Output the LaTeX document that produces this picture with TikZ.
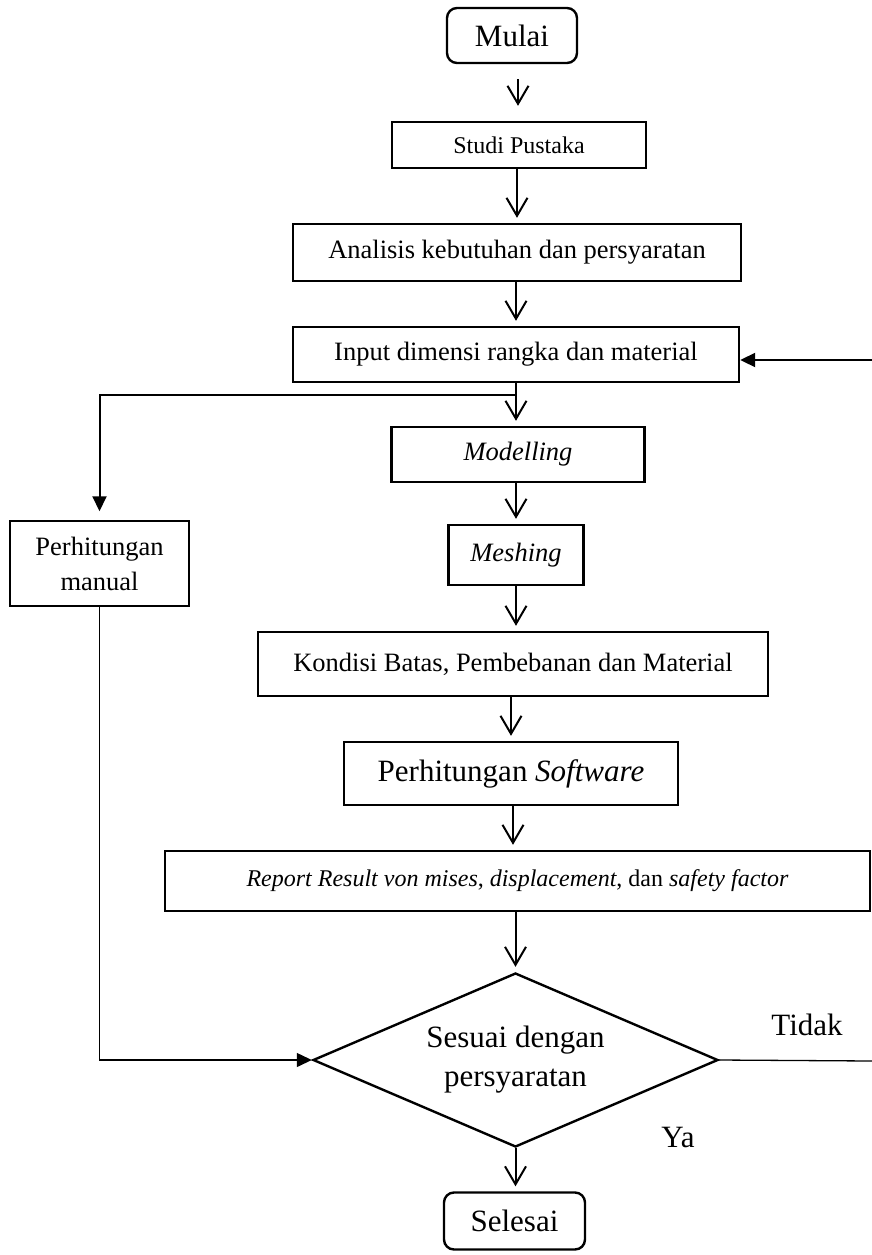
\documentclass[tikz,border=0pt]{standalone}
\usepackage{fontspec}
\setmainfont{Liberation Serif}
\usepackage{tikz}
\usetikzlibrary{arrows.meta,shapes.geometric}

\newcommand{\smallsz}{\fontsize{24}{28}\selectfont}
\newcommand{\midsz}{\fontsize{26.5}{35}\selectfont}
\newcommand{\bigsz}{\fontsize{31}{39}\selectfont}

\begin{document}
\begin{tikzpicture}[x=1pt, y=-1pt,
  box/.style={draw, line width=2.4pt, inner sep=0pt, align=center, font=\midsz},
  term/.style={box, rounded corners=10pt, font=\bigsz},
  decision/.style={draw, diamond, aspect=2.33, line width=2.4pt, inner sep=0pt, align=center, font=\bigsz, minimum width=405pt, minimum height=174pt},
  arrow/.style={-{Straight Barb[length=18pt,width=21pt]}, line width=2pt, shorten >=5pt},
  fillarrow/.style={-{Triangle[length=15pt,width=14pt]}, line width=2pt},
  thinline/.style={line width=1.3pt}]
  \useasboundingbox (0,0) rectangle (872,1255);
  \node[term, minimum width=130pt, minimum height=55pt] (mulai) at (512,35.5) {Mulai};
  \node[box, font=\smallsz, minimum width=254pt, minimum height=46pt] (studi) at (519,145) {Studi Pustaka};
  \node[box, minimum width=448pt, minimum height=57pt] (analisis) at (517,252.5) {Analisis kebutuhan dan persyaratan};
  \node[box, minimum width=446pt, minimum height=55pt] (input) at (516,354.5) {Input dimensi rangka dan material};
  \node[box, minimum width=253pt, minimum height=55pt] (modelling) at (518,454.5) {\textit{Modelling}};
  \node[box, minimum width=135pt, minimum height=60pt] (meshing) at (516,555) {\textit{Meshing}};
  \node[box, minimum width=510pt, minimum height=64pt] (kondisi) at (513,664) {Kondisi Batas, Pembebanan dan Material};
  \node[box, font=\bigsz, minimum width=334pt, minimum height=63pt] (software) at (511,773.5) {Perhitungan \textit{Software}};
  \node[box, font=\smallsz, minimum width=705pt, minimum height=60pt] (report) at (517.5,881) {\textit{Report Result von mises}, \textit{displacement}, dan \textit{safety factor}};
  \node[decision] (sesuai) at (515.5,1060) {Sesuai dengan\\persyaratan};
  \node[term, minimum width=141pt, minimum height=57pt] (selesai) at (514.5,1221) {Selesai};
  \node[box, line width=1.5pt, minimum width=179pt, minimum height=85pt] (manual) at (99.5,563.5) {Perhitungan\\manual};
  \node[font=\bigsz] (tidak) at (807,1025) {Tidak};
  \node[font=\bigsz] (ya) at (678,1137) {Ya};
  \coordinate (split) at (516,395);
  \coordinate (back) at (872,360);
  \coordinate (tidakend) at (872,1061);
  \draw[arrow, shorten <=15pt, shorten >=15pt] (mulai.south -| 518,0) -- (studi.north -| 518,0);
  \draw[arrow] (studi.south -| analisis) -- (analisis.north);
  \draw[arrow] (analisis.south -| input) -- (input.north);
  \draw[arrow] (input.south) -- (input.south |- modelling.north);
  \draw[arrow] (modelling.south -| meshing) -- (meshing.north);
  \draw[arrow] (meshing.south) -- (meshing.south |- kondisi.north);
  \draw[arrow] (kondisi.south -| software) -- (software.north);
  \draw[arrow] (software.south -| 513,0) -- (report.north -| 513,0);
  \draw[arrow] (report.south -| sesuai) -- (sesuai.north);
  \draw[arrow] (sesuai.south) -- (sesuai.south |- selesai.north);
  \draw[fillarrow, shorten >=9pt] (split) -| (manual.north);
  \draw[fillarrow] (back) -- (input.east |- back);
  \draw[thinline, -{Triangle[length=15pt,width=14pt]}] (manual.south) |- (sesuai.west);
  \draw[thinline] (sesuai.east) -- (tidakend);
\end{tikzpicture}
\end{document}
